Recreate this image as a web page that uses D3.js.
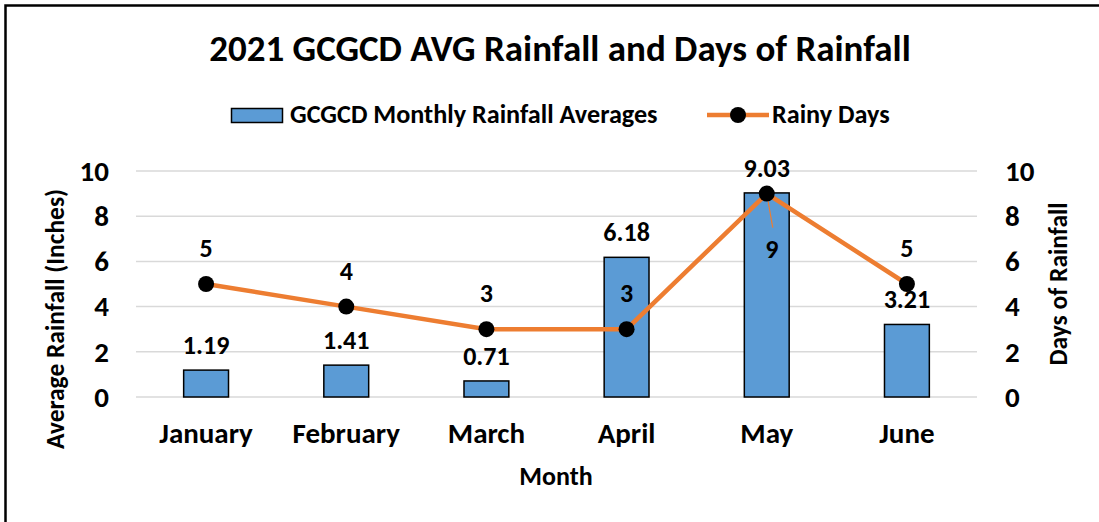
<!DOCTYPE html>
<html>
<head>
<meta charset="utf-8">
<script src="https://cdn.jsdelivr.net/npm/d3@7"></script>
<style>
  body { margin: 0; background: #fff; }
  svg text { font-family: Carlito, Calibri, Lato, sans-serif; font-weight: bold; fill: #000; }
</style>
</head>
<body>
<svg width="1099" height="522"></svg>
<script>
// data
const months = ['January', 'February', 'March', 'April', 'May', 'June']
const rainfall = [1.19, 1.41, 0.71, 6.18, 9.03, 3.21]
const rainyDays = [5, 4, 3, 3, 9, 5]
const leftTicks = [0, 2, 4, 6, 8, 10]
const rightTicks = [0, 2, 4, 6, 8, 10]

const svg = d3.select('svg')
const margin = {top: 171, right: 122, bottom: 125, left: 136}
const graphWidth = 1099 - margin.left - margin.right
const graphHeight = 522 - margin.top - margin.bottom

// chart frame
svg.append('path')
   .attr('d', 'M5.5,522 L5.5,5.5 L1099,5.5')
   .attr('fill', 'none')
   .attr('stroke', '#000')
   .attr('stroke-width', 2.5)

const graph = svg.append('g')
   .attr('transform', `translate(${margin.left},${margin.top})`)

// scales
const x = d3.scaleBand()
   .domain(months)
   .range([0, graphWidth])
   .paddingInner(0.68)
   .paddingOuter(0.34)

const xPoint = d => x(d) + x.bandwidth() / 2

const y = d3.scaleLinear().domain([0, 10]).range([graphHeight, 0])
const y2 = d3.scaleLinear().domain([0, 10]).range([graphHeight, 0])

// gridlines
graph.append('g')
   .selectAll('line')
   .data(leftTicks)
   .enter().append('line')
   .attr('x1', 0).attr('x2', graphWidth)
   .attr('y1', d => y(d)).attr('y2', d => y(d))
   .attr('stroke', '#d9d9d9')
   .attr('stroke-width', 1.5)

// axes
const yAxis = d3.axisLeft(y).tickValues(leftTicks).tickSize(0).tickPadding(27)
const yAxis2 = d3.axisRight(y2).tickValues(rightTicks).tickSize(0).tickPadding(28)
const xAxis = d3.axisBottom(x).tickSize(0).tickPadding(25)

const yAxisGroup = graph.append('g').call(yAxis)
const yAxisGroup2 = graph.append('g').attr('transform', `translate(${graphWidth},0)`).call(yAxis2)
const xAxisGroup = graph.append('g').attr('transform', `translate(0,${graphHeight})`).call(xAxis)

;[yAxisGroup, yAxisGroup2, xAxisGroup].forEach(g => {
   g.select('.domain').remove()
   g.selectAll('text').style('font-size', '29px')
})
yAxisGroup2.selectAll('text').attr('text-anchor', 'start')

// bars
graph.selectAll('rect.bar')
   .data(rainfall)
   .enter().append('rect')
   .attr('class', 'bar')
   .attr('x', (d, i) => x(months[i]))
   .attr('width', x.bandwidth())
   .attr('y', d => y(d))
   .attr('height', d => graphHeight - y(d))
   .attr('fill', '#5b9bd5')
   .attr('stroke', '#000')
   .attr('stroke-width', 1.5)

// bar labels
graph.selectAll('text.barlabel')
   .data(rainfall)
   .enter().append('text')
   .attr('class', 'barlabel')
   .attr('x', (d, i) => xPoint(months[i]))
   .attr('y', d => y(d) - 16)
   .attr('text-anchor', 'middle')
   .style('font-size', '26px')
   .text(d => d.toFixed(2))

// line
const line = d3.line()
   .x((d, i) => xPoint(months[i]))
   .y(d => y2(d))

graph.append('path')
   .datum(rainyDays)
   .attr('d', line)
   .attr('fill', 'none')
   .attr('stroke', '#ed7d31')
   .attr('stroke-width', 4.5)

// leader line for the May label
const mayIdx = 4
graph.append('line')
   .attr('x1', xPoint(months[mayIdx])).attr('y1', y2(rainyDays[mayIdx]))
   .attr('x2', xPoint(months[mayIdx]) + 6).attr('y2', y2(rainyDays[mayIdx]) + 34)
   .attr('stroke', '#ed7d31')
   .attr('stroke-width', 1.2)

graph.selectAll('circle.pt')
   .data(rainyDays)
   .enter().append('circle')
   .attr('class', 'pt')
   .attr('cx', (d, i) => xPoint(months[i]))
   .attr('cy', d => y2(d))
   .attr('r', 8)
   .attr('fill', '#000')

// line labels
graph.selectAll('text.ptlabel')
   .data(rainyDays)
   .enter().append('text')
   .attr('class', 'ptlabel')
   .attr('x', (d, i) => xPoint(months[i]) + (i === mayIdx ? 5 : 0))
   .attr('y', (d, i) => i === mayIdx ? y2(d) + 64 : y2(d) - 27)
   .attr('text-anchor', 'middle')
   .style('font-size', '26px')
   .text(d => d)

// titles
svg.append('text')
   .attr('x', 560).attr('y', 61)
   .attr('text-anchor', 'middle')
   .style('font-size', '37px')
   .text('2021 GCGCD AVG Rainfall and Days of Rainfall')

svg.append('text')
   .attr('x', 556).attr('y', 485)
   .attr('text-anchor', 'middle')
   .style('font-size', '26px')
   .text('Month')

svg.append('text')
   .attr('transform', 'translate(64,319) rotate(-90)')
   .attr('text-anchor', 'middle')
   .style('font-size', '25.5px')
   .text('Average Rainfall (Inches)')

svg.append('text')
   .attr('transform', 'translate(1067,284) rotate(-90)')
   .attr('text-anchor', 'middle')
   .style('font-size', '25.5px')
   .text('Days of Rainfall')

// legend
const legend = svg.append('g')
legend.append('rect')
   .attr('x', 231.5).attr('y', 108.5).attr('width', 51).attr('height', 14)
   .attr('fill', '#5b9bd5').attr('stroke', '#000').attr('stroke-width', 1.5)
legend.append('text')
   .attr('x', 290).attr('y', 123)
   .style('font-size', '26.2px')
   .text('GCGCD Monthly Rainfall Averages')
legend.append('line')
   .attr('x1', 707).attr('x2', 769).attr('y1', 115).attr('y2', 115)
   .attr('stroke', '#ed7d31').attr('stroke-width', 4.5)
legend.append('circle')
   .attr('cx', 738).attr('cy', 115).attr('r', 8).attr('fill', '#000')
legend.append('text')
   .attr('x', 772).attr('y', 123)
   .style('font-size', '26.2px')
   .text('Rainy Days')
</script>
</body>
</html>
